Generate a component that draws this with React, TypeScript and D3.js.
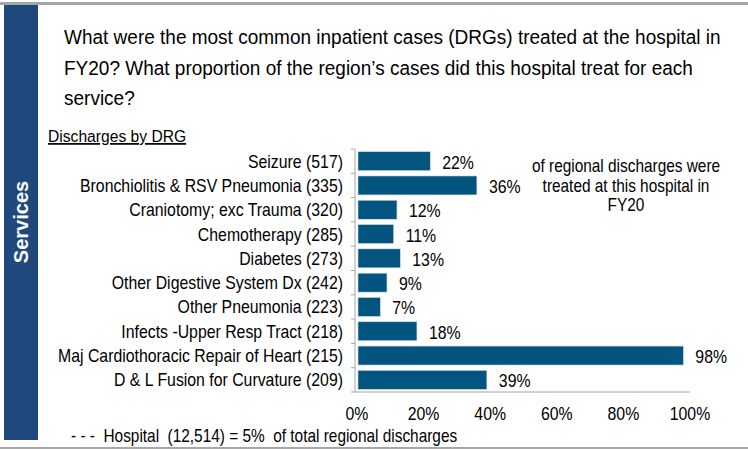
import React, { useEffect, useRef } from "react";
import * as d3 from "d3";

const categories = [
  "Seizure (517)",
  "Bronchiolitis & RSV Pneumonia (335)",
  "Craniotomy; exc Trauma (320)",
  "Chemotherapy (285)",
  "Diabetes (273)",
  "Other Digestive System Dx (242)",
  "Other Pneumonia (223)",
  "Infects -Upper Resp Tract (218)",
  "Maj Cardiothoracic Repair of Heart (215)",
  "D & L Fusion for Curvature (209)",
];
const shares = [22, 36, 12, 11, 13, 9, 7, 18, 98, 39];
const xTicks = [0, 20, 40, 60, 80, 100];
const titleLines = [
  "What were the most common inpatient cases (DRGs) treated at the hospital in",
  "FY20? What proportion of the region\u2019s cases did this hospital treat for each",
  "service?",
];
const noteLines = ["of regional discharges were", "treated at this hospital in", "FY20"];

const W = 748;
const H = 451;
const FONT = "'Liberation Sans', Arial, sans-serif";
const SX = 0.88; // narrow look of the original text

const App = () => {
  const ref = useRef<SVGSVGElement>(null);

  useEffect(() => {
    const svg = d3.select(ref.current);
    svg.selectAll("*").remove();

    const label = (sel, size, anchor = "start") =>
      sel
        .attr("text-anchor", anchor)
        .attr("fill", "#000")
        .style("font-family", FONT)
        .style("font-size", `${size}px`);

    // frame lines + side panel
    svg.append("rect").attr("x", 0).attr("y", 2).attr("width", W).attr("height", 3).attr("fill", "#a6a6a6");
    svg.append("rect").attr("x", 0).attr("y", 447).attr("width", W).attr("height", 2).attr("fill", "#a6a6a6");
    svg.append("rect").attr("x", 4).attr("y", 5).attr("width", 34).attr("height", 435).attr("fill", "#1f497d");
    svg
      .append("text")
      .attr("transform", "translate(28,222) rotate(-90)")
      .attr("text-anchor", "middle")
      .attr("fill", "#fff")
      .style("font-family", FONT)
      .style("font-size", "20px")
      .style("font-weight", "bold")
      .text("Services");

    // title
    label(
      svg
        .append("g")
        .selectAll("text")
        .data(titleLines)
        .join("text")
        .attr("transform", (d, i) => `translate(64,${44 + i * 30.5}) scale(0.905,1)`),
      21
    ).text((d) => d);

    label(svg.append("text").attr("transform", `translate(48,142) scale(0.92,1)`), 17)
      .style("text-decoration", "underline")
      .text("Discharges by DRG");

    const x = d3.scaleLinear().domain([0, 100]).range([357, 690]);
    const y = d3.scaleBand().domain(categories).range([149, 392]).paddingInner(0.22).paddingOuter(0.11);
    const rowH = 243 / categories.length;

    const g = svg.append("g");

    // axis line + ticks
    g.append("line").attr("x1", 355).attr("x2", 355).attr("y1", 149).attr("y2", 392).attr("stroke", "#a6a6a6");
    g.append("line").attr("x1", 355).attr("x2", x(100)).attr("y1", 392).attr("y2", 392).attr("stroke", "#a6a6a6");
    g.selectAll(".tk")
      .data(d3.range(categories.length + 1))
      .join("line")
      .attr("x1", 351)
      .attr("x2", 355)
      .attr("y1", (i) => 149 + i * rowH)
      .attr("y2", (i) => 149 + i * rowH)
      .attr("stroke", "#a6a6a6");

    g.selectAll(".bar")
      .data(shares)
      .join("rect")
      .attr("x", x(0) + 1)
      .attr("y", (d, i) => y(categories[i])!)
      .attr("width", (d) => x(d) - x(0) - 1)
      .attr("height", y.bandwidth())
      .attr("fill", "#03547f")
      .attr("stroke", "#c9dbe6")
      .attr("stroke-width", 0.6);

    label(
      g
        .selectAll(".cat")
        .data(categories)
        .join("text")
        .attr("transform", (d) => `translate(343,${y(d)! + y.bandwidth() / 2 + 6.5}) scale(${SX},1)`),
      18,
      "end"
    ).text((d) => d);

    label(
      g
        .selectAll(".val")
        .data(shares)
        .join("text")
        .attr(
          "transform",
          (d, i) => `translate(${x(d) + 12},${y(categories[i])! + y.bandwidth() / 2 + 7.5}) scale(${SX},1)`
        ),
      18
    ).text((d) => `${d}%`);

    label(
      g
        .selectAll(".xt")
        .data(xTicks)
        .join("text")
        .attr("transform", (d) => `translate(${x(d)},420) scale(${SX},1)`),
      18,
      "middle"
    ).text((d) => `${d}%`);

    label(
      svg
        .append("g")
        .selectAll("text")
        .data(noteLines)
        .join("text")
        .attr("transform", (d, i) => `translate(626,${172 + i * 19.5}) scale(${SX},1)`),
      17.5,
      "middle"
    ).text((d) => d);

    label(svg.append("text").attr("transform", `translate(71,442) scale(${SX},1)`), 17.5)
      .attr("xml:space", "preserve")
      .style("white-space", "pre")
      .text("- - -  Hospital  (12,514) = 5%  of total regional discharges");
  }, []);

  return <svg ref={ref} width={W} height={H} style={{ position: "absolute", left: 0, top: 0, background: "#fff" }} />;
};

export default App;
